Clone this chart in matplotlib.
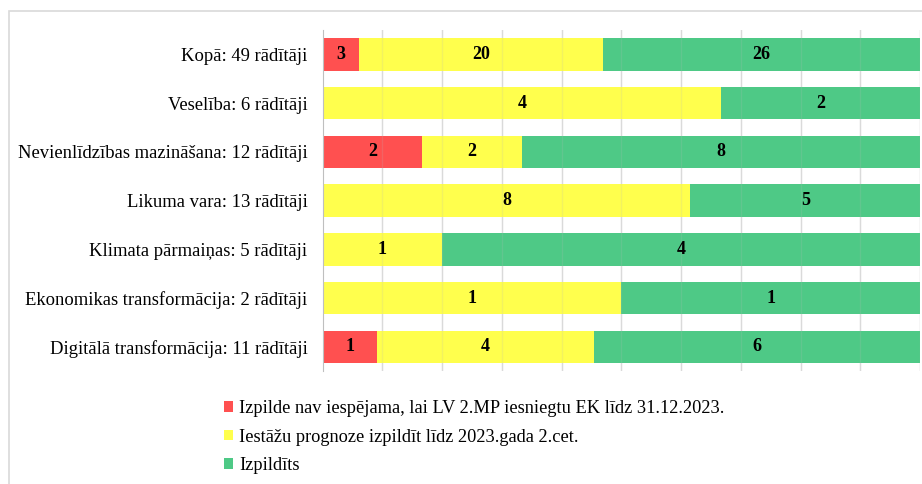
import numpy as np
import matplotlib.pyplot as plt
from matplotlib.patches import Rectangle

plt.rcParams['font.family'] = ['Liberation Serif', 'DejaVu Serif']

# categories from top to bottom
categories = [
    "Kopā: 49 rādītāji",
    "Veselība: 6 rādītāji",
    "Nevienlīdzības mazināšana: 12 rādītāji",
    "Likuma vara: 13 rādītāji",
    "Klimata pārmaiņas: 5 rādītāji",
    "Ekonomikas transformācija: 2 rādītāji",
    "Digitālā transformācija: 11 rādītāji",
]
not_possible = [3, 0, 2, 0, 0, 0, 1]
forecast = [20, 4, 2, 8, 1, 1, 4]
done = [26, 2, 8, 5, 4, 1, 6]

series_names = [
    "Izpilde nav iespējama, lai LV 2.MP iesniegtu EK līdz 31.12.2023.",
    "Iestāžu prognoze izpildīt līdz 2023.gada 2.cet.",
    "Izpildīts",
]
colors = ['#ff5050', '#ffff4d', '#4ec986']

fig = plt.figure(figsize=(9.22, 4.84), dpi=100)
ax = fig.add_axes([0.350, 0.233, 0.648, 0.705])

# outer chart frame (partly outside the picture)
fig.patches.append(Rectangle((9 / 922, -0.1), 1.0, 1.1 - 11 / 484,
                             transform=fig.transFigure, fill=False,
                             edgecolor='#d9d9d9', linewidth=1.2))

data = np.array([not_possible, forecast, done], dtype=float)
totals = data.sum(axis=0)
shares = data / totals
y = np.arange(len(categories))

left = np.zeros(len(categories))
for i in range(3):
    ax.barh(y, shares[i], left=left, height=0.67, color=colors[i],
            label=series_names[i], zorder=2)
    for j in range(len(categories)):
        if data[i, j] > 0:
            ax.text(left[j] + shares[i, j] / 2, y[j], f"{int(data[i, j])}",
                    ha='center', va='center', fontsize=13,
                    fontweight='bold', zorder=4)
    left += shares[i]

ax.set_xlim(0, 1)
ax.set_ylim(6.5, -0.5)
ax.set_yticks(y)
ax.set_yticklabels(categories, fontsize=13.4)
ax.set_xticks(np.arange(0, 1.01, 0.1))
ax.tick_params(axis='x', length=0, labelbottom=False)
ax.tick_params(axis='y', length=0, pad=11)
# gridlines: visible in the gaps, faint through the bars
for gx in np.arange(0.1, 1.01, 0.1):
    ax.axvline(gx, color='#e2e2e2', linewidth=1, zorder=1)
    ax.axvline(gx, color='#bbbbbb', linewidth=1, alpha=0.18, zorder=3)
for s in ['top', 'right', 'bottom']:
    ax.spines[s].set_visible(False)
ax.spines['left'].set_color('#bfbfbf')

fig.legend(loc='upper left', bbox_to_anchor=(215 / 922, 1 - 391 / 484),
           frameon=False, fontsize=13.2, handlelength=0.5, handleheight=0.5,
           handletextpad=0.3, labelspacing=0.62, borderpad=0)

fig.savefig('out.png', dpi=100)
